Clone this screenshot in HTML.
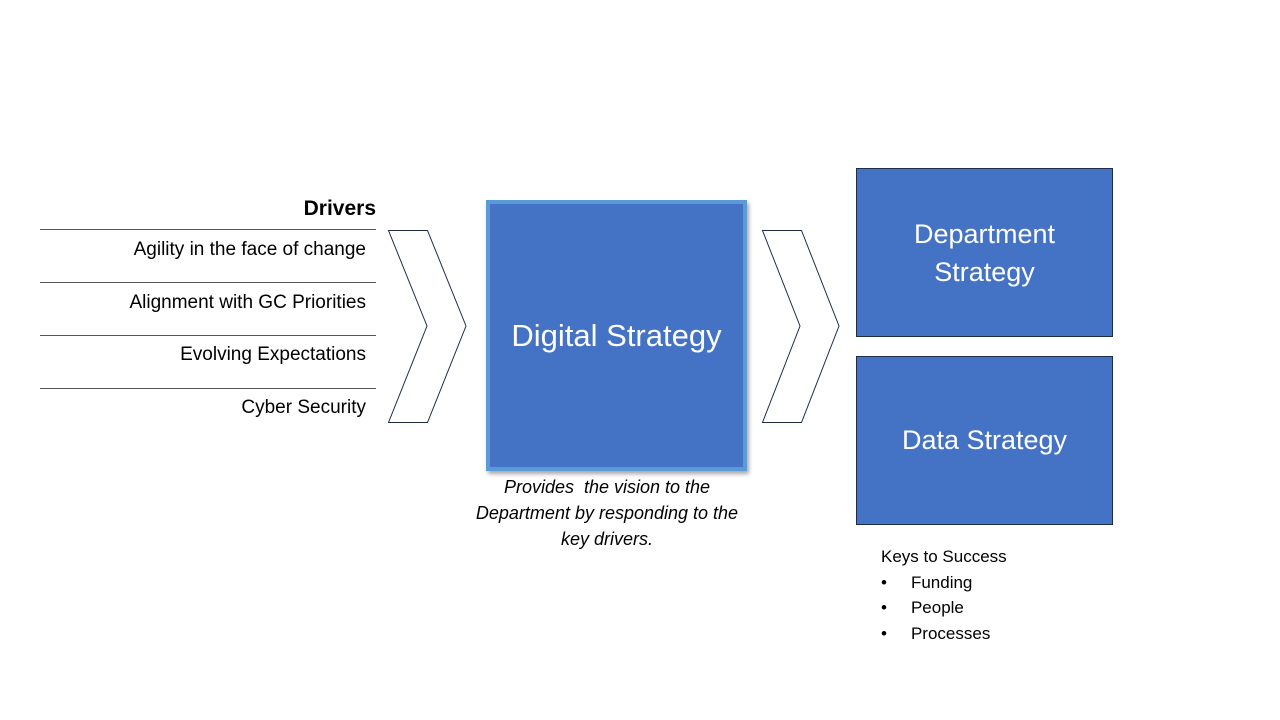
<!DOCTYPE html>
<html><head><style>
body{margin:0;width:1280px;height:720px;background:#fff;position:relative;overflow:hidden;font-family:"Liberation Sans",sans-serif;}
.t{position:absolute;white-space:nowrap;color:#000;}
.line{position:absolute;left:40px;width:336px;height:1px;background:#555;}
.box{position:absolute;background:#4472C4;color:#fff;display:flex;align-items:center;justify-content:center;text-align:center;}
</style></head><body>
<div class="t" style="right:904px;top:197px;font-size:21px;font-weight:bold;">Drivers</div>
<div class="line" style="top:229px"></div>
<div class="line" style="top:282px"></div>
<div class="line" style="top:335px"></div>
<div class="line" style="top:388px"></div>
<div class="t" style="right:914px;top:239px;font-size:19px;">Agility in the face of change</div>
<div class="t" style="right:914px;top:292px;font-size:19px;">Alignment with GC Priorities</div>
<div class="t" style="right:914px;top:344px;font-size:19px;">Evolving Expectations</div>
<div class="t" style="right:914px;top:397px;font-size:19px;">Cyber Security</div>
<svg style="position:absolute;left:0;top:0" width="1280" height="720">
<polygon points="388.5,230.5 427.5,230.5 466,326 427.5,422.5 388.5,422.5 427,326" fill="#fff" stroke="#1f2d4a" stroke-width="1"/>
<polygon points="762.5,230.5 801.5,230.5 839,326 801.5,422.5 762.5,422.5 800,326" fill="#fff" stroke="#1f2d4a" stroke-width="1"/>
</svg>
<div class="box" style="left:486px;top:200px;width:253px;height:263px;border:4px solid #5B9BD5;box-shadow:2px 3px 4px rgba(0,0,0,0.35);font-size:31px;">Digital Strategy</div>
<div class="t" style="left:407px;width:400px;text-align:center;top:474px;font-size:18px;font-style:italic;line-height:26px;">Provides&nbsp; the vision to the<br>Department by responding to the<br>key drivers.</div>
<div class="box" style="left:856px;top:168px;width:255px;height:167px;border:1px solid #1f2d4a;font-size:27px;line-height:38px;">Department<br>Strategy</div>
<div class="box" style="left:856px;top:356px;width:255px;height:167px;border:1px solid #1f2d4a;font-size:27px;">Data Strategy</div>
<div class="t" style="left:881px;top:544px;font-size:17px;line-height:25.5px;">Keys to Success<br>•<span style="display:inline-block;width:24px"></span>Funding<br>•<span style="display:inline-block;width:24px"></span>People<br>•<span style="display:inline-block;width:24px"></span>Processes</div>
</body></html>
